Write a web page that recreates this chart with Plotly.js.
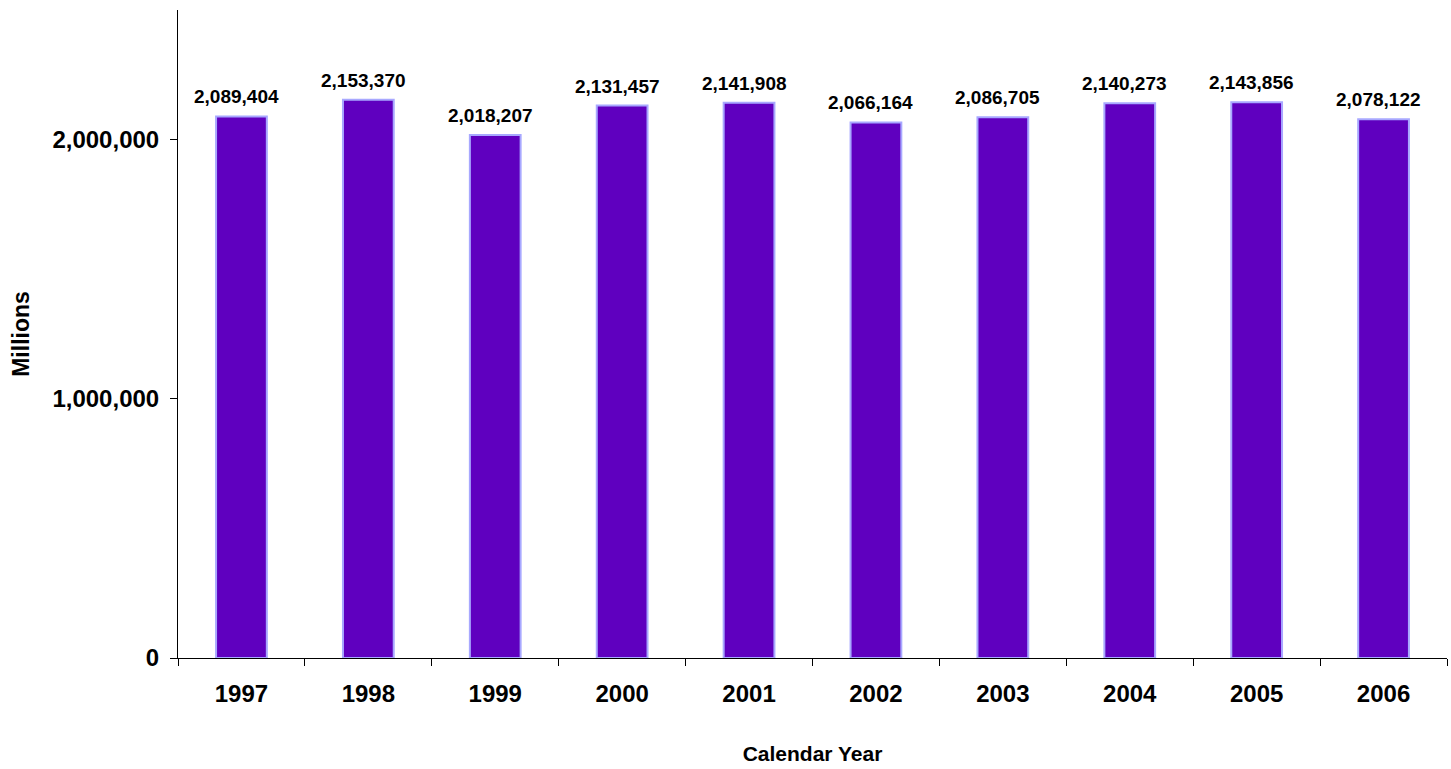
<!DOCTYPE html>
<html>
<head>
<meta charset="utf-8">
<script src="https://cdn.plot.ly/plotly-3.0.1.min.js"></script>
<style>html,body{margin:0;padding:0;background:#fff;}#chart{width:1451px;height:769px;}</style>
</head>
<body>
<div id="chart"></div>
<script>
var years = ['1997','1998','1999','2000','2001','2002','2003','2004','2005','2006'];
var values = [2089404, 2153370, 2018207, 2131457, 2141908, 2066164, 2086705, 2140273, 2143856, 2078122];
var yTickVals = [0, 1000000, 2000000];
var yTickText = ['0', '1,000,000', '2,000,000'];

var font = 'Liberation Sans, Arial, sans-serif';
function fmt(v){ return v.toString().replace(/\B(?=(\d{3})+(?!\d))/g, ','); }

var trace = {
  type: 'bar',
  x: years,
  y: values,
  marker: {color: '#5F00BF', line: {color: '#A8A8FF', width: 2}},
  hoverinfo: 'none'
};

var annotations = years.map(function(y, i){
  return {x: i, y: values[i], xref: 'x', yref: 'y', text: '<b>' + fmt(values[i]) + '</b>',
    showarrow: false, yanchor: 'bottom', yshift: 7, xshift: -5,
    font: {family: font, size: 19, color: '#000'}};
});

var layout = {
  width: 1451, height: 769,
  margin: {l: 178, r: 4, t: 10, b: 111},
  paper_bgcolor: '#fff', plot_bgcolor: '#fff',
  showlegend: false,
  bargap: 0.6,
  font: {family: font, color: '#000'},
  xaxis: {
    type: 'category',
    range: [-0.5, years.length - 0.5],
    showline: true, linecolor: '#000', linewidth: 1,
    ticks: 'outside', tickson: 'boundaries', ticklen: 7, tickcolor: '#000',
    tickangle: 0, ticklabelstandoff: 14,
    tickfont: {family: font, size: 24, color: '#000', weight: 'bold'},
    title: {text: '<b>Calendar Year</b>', font: {family: font, size: 21, color: '#000'}, standoff: 40},
    showgrid: false, zeroline: false
  },
  yaxis: {
    range: [0, 2500000],
    showline: true, linecolor: '#000', linewidth: 1,
    ticks: 'outside', ticklen: 7, tickcolor: '#000',
    ticklabelstandoff: 6,
    tickvals: yTickVals, ticktext: yTickText,
    tickfont: {family: font, size: 24, color: '#000', weight: 'bold'},
    title: {text: '<b>Millions</b>', font: {family: font, size: 23, color: '#000'}, standoff: 16},
    showgrid: false, zeroline: false
  },
  annotations: annotations
};

Plotly.newPlot('chart', [trace], layout, {displayModeBar: false, staticPlot: true});
</script>
</body>
</html>
